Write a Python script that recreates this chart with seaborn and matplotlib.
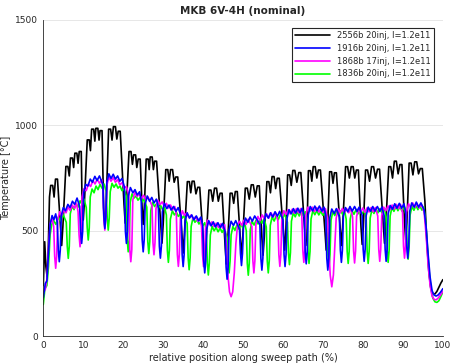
import pandas as pd
import matplotlib
matplotlib.use("Agg")
import matplotlib.pyplot as plt
from matplotlib.lines import Line2D
import seaborn as sns

# Series labels and colours
labels = ["2556b 20inj, I=1.2e11", "1916b 20inj, I=1.2e11",
          "1868b 17inj, I=1.2e11", "1836b 20inj, I=1.2e11"]
colors = ["#000000", "#0000ff", "#ff00ff", "#00ff00"]

# Temperature traces: (position %, temperature C)
black_pts = [
    (0.0, 240), (0.35, 448), (0.65, 330), (0.95, 282), (1.25, 420), (1.55, 660),
    (1.85, 715), (2.35, 715), (2.7, 660), (3.05, 745), (3.55, 745),
    (4.3, 520), (4.6, 430), (4.9, 520),
    (5.65, 805), (6.15, 805), (6.5, 760), (6.8, 845), (7.3, 845), (7.6, 800), (7.9, 868), (8.4, 868), (8.7, 820), (9.0, 876), (9.5, 876),
    (9.7, 640), (10.0, 551), (10.3, 640),
    (11.0, 931), (11.5, 931), (11.8, 880), (12.1, 982), (12.6, 982), (12.9, 925), (13.15, 986), (13.65, 986), (13.95, 930), (14.2, 975), (14.7, 975),
    (15.1, 610), (15.4, 519), (15.7, 610),
    (16.35, 982), (16.85, 982), (17.2, 930), (17.55, 994), (18.05, 994), (18.4, 935), (18.75, 972), (19.25, 972),
    (20.2, 625), (20.5, 536), (20.8, 625),
    (21.45, 876), (21.95, 876), (22.3, 815), (22.6, 860), (23.1, 860), (23.4, 800), (23.75, 840), (24.25, 840),
    (24.7, 620), (25.0, 530), (25.3, 620),
    (25.75, 840), (26.25, 840), (26.5, 790), (26.75, 850), (27.25, 850), (27.55, 790), (27.85, 830), (28.35, 830),
    (29.4, 530), (29.7, 441), (30.0, 530),
    (30.65, 790), (31.15, 790), (31.5, 735), (31.85, 790), (32.35, 790), (32.75, 730), (33.15, 755), (33.65, 755),
    (34.7, 480), (35.0, 394), (35.3, 480),
    (36.05, 733), (36.55, 733), (36.9, 680), (37.25, 735), (37.75, 735), (38.2, 675), (38.65, 706), (39.15, 706),
    (40.1, 440), (40.4, 353), (40.7, 440),
    (41.45, 693), (41.95, 693), (42.4, 640), (42.85, 702), (43.35, 702), (43.8, 640), (44.25, 678), (44.75, 678),
    (45.5, 430), (45.8, 342), (46.1, 430),
    (46.75, 678), (47.25, 678), (47.65, 630), (48.05, 686), (48.55, 686),
    (49.3, 465), (49.6, 378), (49.9, 465),
    (50.55, 702), (51.05, 702), (51.55, 650), (52.05, 718), (52.55, 718), (53.05, 660), (53.55, 713), (54.05, 713),
    (54.7, 470), (55.0, 384), (55.3, 470),
    (55.95, 733), (56.45, 733), (56.85, 680), (57.25, 757), (57.75, 757), (58.15, 700), (58.55, 749), (59.05, 749),
    (60.1, 495), (60.4, 408), (60.7, 495),
    (61.15, 765), (61.65, 765), (62.05, 715), (62.45, 786), (62.95, 786), (63.45, 730), (63.95, 776), (64.45, 776),
    (65.4, 515), (65.7, 430), (66.0, 515),
    (66.35, 785), (66.85, 785), (67.2, 735), (67.55, 804), (68.05, 804), (68.45, 750), (68.85, 788), (69.35, 788),
    (70.5, 495), (70.8, 408), (71.1, 495),
    (71.65, 780), (72.15, 780), (72.5, 725), (72.85, 775), (73.35, 775),
    (74.3, 515), (74.6, 430), (74.9, 515),
    (75.65, 804), (76.15, 804), (76.6, 750), (77.05, 804), (77.55, 804), (77.95, 750), (78.35, 788), (78.85, 788),
    (79.5, 520), (79.8, 435), (80.1, 520),
    (80.65, 788), (81.15, 788), (81.65, 735), (82.15, 804), (82.65, 804), (83.15, 750), (83.65, 792), (84.15, 792),
    (85.1, 525), (85.4, 440), (85.7, 525),
    (86.45, 804), (86.95, 804), (87.4, 750), (87.85, 830), (88.35, 830), (88.8, 770), (89.25, 814), (89.75, 814),
    (90.4, 540), (90.7, 456), (91.0, 540),
    (91.55, 821), (92.05, 821), (92.5, 765), (92.95, 827), (93.45, 827), (93.9, 770), (94.35, 795), (94.85, 795),
    (95.5, 640), (96.0, 440), (96.5, 300), (97.0, 225), (97.5, 200), (98.0, 200), (98.5, 212), (99.0, 232), (99.5, 252), (100.0, 268),
]

blue_pts = [
    (0.0, 182), (0.5, 250), (0.9, 262), (1.3, 400), (1.7, 530), (2.2, 572), (2.65, 552), (3.1, 580),
    (3.5, 540), (3.75, 410), (4.0, 353), (4.25, 410), (4.5, 570),
    (5.0, 610), (5.55, 595), (6.15, 625), (6.7, 610), (7.3, 640), (7.85, 625), (8.45, 655),
    (9.1, 615), (9.35, 497), (9.6, 440), (9.85, 497), (10.1, 680),
    (10.6, 720), (11.15, 712), (11.75, 745), (12.3, 730), (12.9, 758), (13.45, 738), (14.05, 760),
    (14.9, 720), (15.15, 568), (15.4, 511), (15.65, 568), (15.9, 730),
    (16.4, 770), (16.95, 748), (17.5, 768), (18.05, 745), (18.6, 760), (19.15, 735), (19.7, 748),
    (20.3, 708), (20.55, 497), (20.8, 440), (21.05, 497), (21.3, 665),
    (21.8, 705), (22.4, 680), (22.95, 695), (23.5, 670), (24.1, 685),
    (24.5, 645), (24.75, 457), (25.0, 400), (25.25, 457), (25.5, 625),
    (26.0, 665), (26.6, 640), (27.15, 658), (27.7, 632), (28.3, 650),
    (28.8, 610), (29.05, 427), (29.3, 370), (29.55, 427), (29.8, 590),
    (30.3, 630), (30.9, 605), (31.45, 622), (32.0, 598), (32.6, 615), (33.2, 592), (33.75, 610),
    (34.5, 570), (34.75, 387), (35.0, 330), (35.25, 387), (35.5, 545),
    (36.0, 585), (36.6, 560), (37.15, 575), (37.7, 552), (38.3, 570), (38.9, 547), (39.45, 565),
    (39.9, 525), (40.15, 357), (40.4, 300), (40.65, 357), (40.9, 508),
    (41.4, 548), (42.0, 523), (42.55, 542), (43.1, 518), (43.7, 538), (44.3, 515), (44.85, 535),
    (45.5, 495), (45.75, 327), (46.0, 270), (46.25, 327), (46.5, 505),
    (47.0, 545), (47.6, 525), (48.15, 548),
    (49.1, 508), (49.35, 392), (49.6, 335), (49.85, 392), (50.1, 520),
    (50.6, 560), (51.2, 540), (51.75, 565), (52.3, 545), (52.9, 570),
    (54.2, 530), (54.45, 370), (54.7, 313), (54.95, 370), (55.2, 540),
    (55.7, 580), (56.3, 560), (56.85, 585), (57.4, 565), (58.0, 590), (58.6, 569), (59.15, 592),
    (60.0, 552), (60.25, 387), (60.5, 330), (60.75, 387), (61.0, 560),
    (61.5, 600), (62.05, 580), (62.6, 605), (63.15, 584), (63.7, 607), (64.25, 585), (64.8, 607),
    (65.3, 567), (65.55, 400), (65.8, 343), (66.05, 400), (66.3, 575),
    (66.8, 615), (67.4, 594), (67.95, 617), (68.5, 595), (69.1, 617), (69.7, 593), (70.25, 612),
    (70.7, 572), (70.95, 370), (71.2, 313), (71.45, 370), (71.7, 563),
    (72.2, 603), (72.8, 582), (73.35, 605),
    (74.1, 565), (74.35, 407), (74.6, 350), (74.85, 407), (75.1, 570),
    (75.6, 610), (76.2, 590), (76.75, 615), (77.3, 593), (77.9, 615), (78.5, 592), (79.05, 612),
    (79.8, 572), (80.05, 412), (80.3, 355), (80.55, 412), (80.8, 572),
    (81.3, 612), (81.9, 592), (82.45, 615), (83.0, 593), (83.6, 615), (84.2, 592), (84.75, 612),
    (85.3, 572), (85.55, 412), (85.8, 355), (86.05, 412), (86.3, 580),
    (86.8, 620), (87.4, 602), (87.95, 628), (88.5, 607), (89.1, 630), (89.7, 607), (90.25, 628),
    (90.7, 588), (90.95, 427), (91.2, 370), (91.45, 427), (91.7, 592),
    (92.2, 632), (92.8, 612), (93.35, 636), (93.9, 612), (94.5, 632),
    (95.3, 600), (95.8, 520), (96.3, 390), (96.8, 280), (97.3, 215), (97.8, 195), (98.3, 190), (98.8, 195), (99.4, 208), (100.0, 225),
]

magenta_pts = [
    (0.0, 205), (0.5, 222), (0.9, 270), (1.3, 420), (1.7, 530), (2.2, 560),
    (2.6, 520), (2.85, 379), (3.1, 322), (3.35, 379), (3.6, 550),
    (4.1, 590), (4.62, 572), (5.15, 600), (5.68, 585), (6.2, 612), (6.72, 596), (7.25, 622), (7.78, 606), (8.3, 630),
    (8.7, 590), (8.95, 481), (9.2, 424), (9.45, 481), (9.7, 660),
    (10.2, 700), (10.75, 690), (11.3, 722), (11.85, 710), (12.4, 738), (12.95, 722), (13.5, 745), (14.05, 725), (14.6, 742),
    (14.9, 705), (15.15, 560), (15.4, 503), (15.65, 560), (15.9, 715),
    (16.4, 755), (16.95, 735), (17.5, 752), (18.05, 730), (18.6, 743), (19.15, 718), (19.7, 728), (20.25, 702), (20.8, 710),
    (21.4, 670), (21.65, 410), (21.9, 353), (22.15, 410), (22.4, 645),
    (22.9, 685), (23.45, 662), (24.0, 675), (24.55, 653), (25.1, 668), (25.65, 645), (26.2, 660),
    (27.2, 620), (27.45, 443), (27.7, 386), (27.95, 443), (28.2, 605),
    (28.7, 645), (29.22, 624), (29.75, 637), (30.28, 616), (30.8, 630), (31.32, 608), (31.85, 622), (32.38, 600), (32.9, 615),
    (33.3, 578), (33.55, 388), (33.8, 331), (34.05, 388), (34.3, 555),
    (34.8, 595), (35.35, 572), (35.9, 585), (36.45, 562), (37.0, 575), (37.55, 553), (38.1, 567), (38.65, 545), (39.2, 560),
    (39.6, 520), (39.85, 387), (40.1, 330), (40.35, 387), (40.6, 510),
    (41.1, 550), (41.65, 528), (42.2, 542), (42.75, 520), (43.3, 536), (43.85, 515), (44.4, 532), (44.95, 512), (45.4, 528),
    (45.8, 440), (46.2, 290), (46.6, 210), (47.0, 187), (47.4, 210), (47.8, 300), (48.2, 440), (48.6, 525),
    (49.1, 545), (49.65, 525), (50.2, 550), (50.75, 530), (51.3, 555),
    (52.2, 520), (52.45, 357), (52.7, 300), (52.95, 357), (53.2, 530),
    (53.7, 568), (54.25, 548), (54.8, 575), (55.35, 555), (55.9, 580), (56.45, 560), (57.0, 585), (57.55, 565), (58.1, 587),
    (58.7, 548), (58.95, 388), (59.2, 331), (59.45, 388), (59.7, 555),
    (60.2, 595), (60.72, 577), (61.25, 600), (61.78, 580), (62.3, 602), (62.82, 583), (63.35, 605), (63.88, 585), (64.4, 605),
    (64.7, 568), (64.95, 407), (65.2, 350), (65.45, 407), (65.7, 572),
    (66.2, 612), (66.75, 592), (67.3, 612), (67.85, 591), (68.4, 610), (68.95, 589), (69.5, 608), (70.05, 586), (70.6, 605),
    (71.1, 560), (71.45, 420), (71.8, 290), (72.2, 234), (72.6, 290), (72.95, 420), (73.3, 560),
    (73.8, 603), (74.32, 585), (74.85, 606), (75.38, 586), (75.9, 606), (76.42, 585), (76.95, 605),
    (77.4, 565), (77.65, 404), (77.9, 347), (78.15, 404), (78.4, 567),
    (78.9, 605), (79.42, 586), (79.95, 608), (80.48, 588), (81.0, 608), (81.52, 589), (82.05, 610), (82.58, 590), (83.1, 610),
    (83.7, 570), (83.95, 412), (84.2, 355), (84.45, 412), (84.7, 572),
    (85.2, 612), (85.72, 595), (86.25, 618), (86.78, 600), (87.3, 622), (87.82, 603), (88.35, 625), (88.88, 605), (89.4, 625),
    (89.9, 585), (90.15, 427), (90.4, 370), (90.65, 427), (90.9, 588),
    (91.4, 628), (91.92, 610), (92.45, 632), (92.98, 611), (93.5, 630), (94.02, 608), (94.55, 626),
    (95.3, 590), (95.8, 480), (96.3, 340), (96.8, 240), (97.3, 190), (97.8, 174), (98.3, 172), (98.8, 180), (99.4, 195), (100.0, 212),
]

green_pts = [
    (0.0, 150), (0.4, 225), (0.9, 240), (1.3, 330), (1.7, 480), (2.1, 530),
    (2.6, 548), (3.15, 530), (3.75, 565), (4.3, 547), (4.9, 580),
    (5.75, 540), (6.0, 426), (6.25, 369), (6.5, 426), (6.75, 580),
    (7.2, 618), (7.7, 600), (8.2, 630), (8.7, 612), (9.2, 642), (9.7, 624), (10.2, 650),
    (10.75, 610), (11.0, 513), (11.25, 456), (11.5, 513), (11.75, 660),
    (12.2, 698), (12.7, 680), (13.2, 712), (13.7, 695), (14.2, 720), (14.7, 702), (15.2, 722),
    (15.75, 685), (16.0, 560), (16.25, 503), (16.5, 560), (16.75, 685),
    (17.2, 725), (17.7, 706), (18.2, 722), (18.7, 702), (19.2, 712), (19.7, 690), (20.2, 700),
    (20.75, 665), (21.0, 457), (21.25, 400), (21.5, 457), (21.75, 635),
    (22.2, 675), (22.7, 655), (23.2, 665), (23.7, 645), (24.2, 657), (24.7, 637), (25.2, 650),
    (25.9, 612), (26.15, 449), (26.4, 392), (26.65, 449), (26.9, 595),
    (27.35, 635), (27.85, 615), (28.35, 628), (28.85, 608), (29.35, 620), (29.85, 600), (30.35, 612),
    (30.8, 575), (31.05, 407), (31.3, 350), (31.55, 407), (31.8, 555),
    (32.3, 595), (32.8, 575), (33.3, 588), (33.8, 568), (34.3, 580), (34.8, 560), (35.3, 572),
    (36.0, 535), (36.25, 372), (36.5, 315), (36.75, 372), (37.0, 520),
    (37.45, 560), (37.95, 540), (38.45, 552), (38.95, 532), (39.45, 545), (39.95, 525), (40.4, 538),
    (40.8, 500), (41.05, 347), (41.3, 290), (41.55, 347), (41.8, 480),
    (42.25, 520), (42.75, 500), (43.25, 515), (43.75, 495), (44.25, 512), (44.75, 492), (45.25, 510),
    (46.0, 470), (46.25, 357), (46.5, 300), (46.75, 357), (47.0, 480),
    (47.45, 520), (47.95, 502), (48.45, 527), (48.95, 508), (49.45, 532), (49.95, 513), (50.4, 536),
    (50.8, 500), (51.05, 346), (51.3, 289), (51.55, 346), (51.8, 505),
    (52.25, 545), (52.75, 527), (53.25, 550), (53.75, 532), (54.25, 555), (54.75, 536), (55.25, 558),
    (55.8, 518), (56.05, 357), (56.3, 300), (56.55, 357), (56.8, 525),
    (57.25, 565), (57.78, 546), (58.3, 572), (58.82, 553), (59.35, 578), (59.88, 558), (60.4, 580),
    (61.1, 540), (61.35, 396), (61.6, 339), (61.85, 396), (62.1, 545),
    (62.55, 585), (63.05, 566), (63.55, 590), (64.05, 570), (64.55, 590), (65.05, 570), (65.55, 590),
    (66.0, 550), (66.25, 402), (66.5, 345), (66.75, 402), (67.0, 555),
    (67.45, 595), (67.95, 576), (68.45, 595), (68.95, 575), (69.45, 593), (69.95, 573), (70.5, 590),
    (71.0, 550), (71.25, 387), (71.5, 330), (71.75, 387), (72.0, 550),
    (72.45, 590), (72.95, 572), (73.45, 595), (73.95, 576), (74.45, 595), (74.95, 576), (75.4, 595),
    (75.8, 555), (76.05, 402), (76.3, 345), (76.55, 402), (76.8, 555),
    (77.25, 595), (77.75, 578), (78.25, 600), (78.75, 580), (79.25, 600), (79.75, 580), (80.4, 600),
    (80.8, 560), (81.05, 402), (81.3, 345), (81.55, 402), (81.8, 560),
    (82.25, 600), (82.75, 582), (83.25, 605), (83.75, 585), (84.25, 605), (84.75, 585), (85.4, 605),
    (85.8, 565), (86.05, 407), (86.3, 350), (86.55, 407), (86.8, 570),
    (87.25, 610), (87.75, 592), (88.25, 615), (88.75, 595), (89.25, 614), (89.75, 594), (90.4, 612),
    (90.8, 572), (91.05, 422), (91.3, 365), (91.55, 422), (91.8, 575),
    (92.25, 615), (92.75, 597), (93.25, 620), (93.75, 600), (94.25, 618), (94.75, 598), (95.2, 612),
    (95.6, 560), (96.0, 460), (96.5, 320), (97.0, 225), (97.5, 180), (98.0, 163), (98.5, 160), (99.0, 168), (99.5, 188), (100.0, 210),
]

x_ticks = [0, 10, 20, 30, 40, 50, 60, 70, 80, 90, 100]
y_ticks = [0, 500, 1000, 1500]

# Long-format table for seaborn
frames = []
for lab, pts in zip(labels, [black_pts, blue_pts, magenta_pts, green_pts]):
    xs, ys = zip(*pts)
    frames.append(pd.DataFrame({"pos": xs, "temp": ys, "run": lab}))
df = pd.concat(frames, ignore_index=True)

sns.set_style("white")
plt.rcParams["font.family"] = ["DejaVu Sans"]
plt.rcParams["xtick.direction"] = "in"
plt.rcParams["ytick.direction"] = "in"

fig = plt.figure(figsize=(4.51, 3.63), dpi=100)
ax = fig.add_axes([0.096, 0.074, 0.886, 0.871])

palette = dict(zip(labels, colors))
draw_order = [labels[0], labels[3], labels[2], labels[1]]
sns.lineplot(data=df, x="pos", y="temp", hue="run", hue_order=draw_order,
             palette=palette, estimator=None, sort=False, linewidth=1.2,
             solid_joinstyle="round", legend=False, ax=ax)

ax.set_xlim(0, 100)
ax.set_ylim(0, 1500)
ax.set_xticks(x_ticks)
ax.set_yticks(y_ticks)
ax.yaxis.grid(True, color="#e3e3e3", linewidth=0.6)
ax.set_axisbelow(True)
for side in ["top", "right"]:
    ax.spines[side].set_visible(False)
for side in ["left", "bottom"]:
    ax.spines[side].set_color("#262626")
    ax.spines[side].set_linewidth(0.6)
ax.tick_params(axis="both", labelsize=6.5, colors="#262626", length=3, width=0.6)

ax.set_title("MKB 6V-4H (nominal)", fontsize=7.5, fontweight="bold", pad=4)
ax.set_xlabel("relative position along sweep path (%)", fontsize=7, color="#262626", labelpad=2)
ax.set_ylabel("Temperature [°C]", fontsize=7, color="#262626", labelpad=3)

handles = [Line2D([0], [0], color=c, linewidth=1.2) for c in colors]
leg = ax.legend(handles, labels, loc="upper right", bbox_to_anchor=(0.978, 0.975),
                fontsize=6, handlelength=4.2, labelspacing=0.45, borderaxespad=0,
                fancybox=False, framealpha=1, edgecolor="#262626")
leg.get_frame().set_linewidth(0.8)

fig.savefig("out.png", dpi=100)
